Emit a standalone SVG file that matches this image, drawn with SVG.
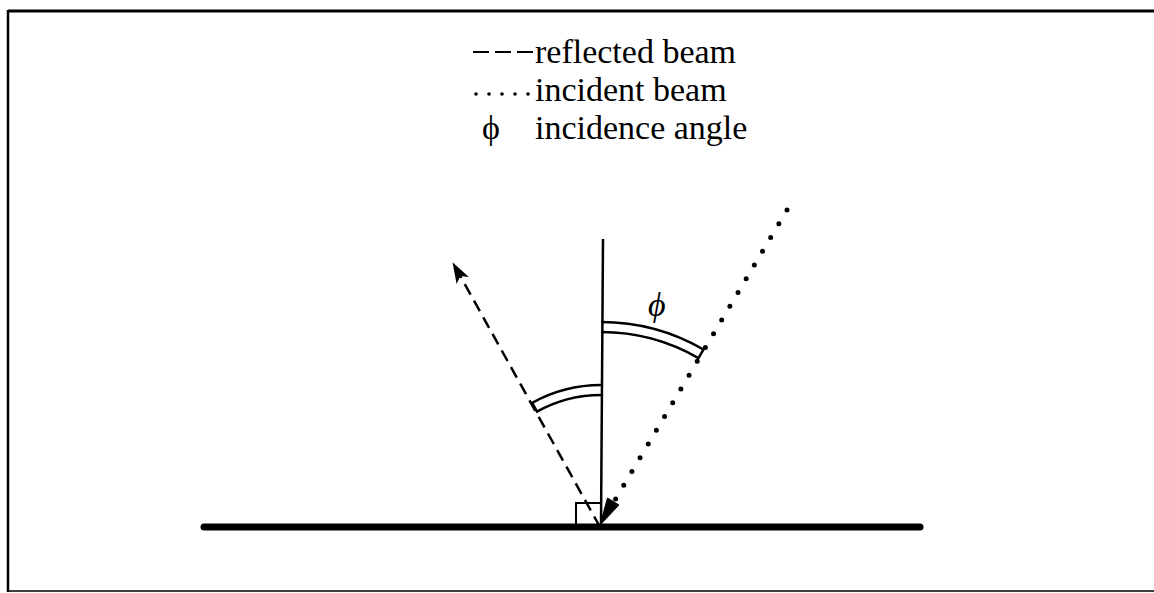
<svg xmlns="http://www.w3.org/2000/svg" width="1154" height="593" viewBox="0 0 1154 593">
<defs>
<style>
.txt{font-family:"Liberation Serif","Times New Roman",serif;font-size:34px;fill:#000}
.ln{stroke:#000;fill:none}
</style>
<marker id="ah" markerWidth="22" markerHeight="14" refX="20" refY="7" orient="auto" markerUnits="userSpaceOnUse">
<path d="M0,0 L21,7 L0,14 L5,7 Z" fill="#000"/>
</marker>
</defs>
<rect width="1154" height="593" fill="#fff"/>
<g id="frame">
<line class="ln" x1="8" y1="11" x2="1154" y2="11" stroke-width="3"/>
<line class="ln" x1="8" y1="10" x2="8" y2="592" stroke-width="2.5"/>
<line class="ln" x1="8" y1="591" x2="1154" y2="591" stroke-width="1.5"/>
</g>
<g id="legend">
<line class="ln" x1="473" y1="52" x2="533" y2="52" stroke-width="2.2" stroke-dasharray="16 6"/>
<text class="txt" x="535" y="63">reflected beam</text>
<g fill="#000">
<circle cx="476" cy="94" r="1.8"/>
<circle cx="489" cy="94" r="1.8"/>
<circle cx="502" cy="94" r="1.8"/>
<circle cx="515" cy="94" r="1.8"/>
<circle cx="528" cy="94" r="1.8"/>
</g>
<text class="txt" x="535" y="101">incident beam</text>
<text class="txt" x="482" y="139">ϕ</text>
<text class="txt" x="535" y="139">incidence angle</text>
</g>
<g id="ground">
<line class="ln" x1="204" y1="527" x2="920" y2="527" stroke-width="7" stroke-linecap="round"/>
</g>
<g id="normal">
<line class="ln" x1="603" y1="239" x2="601" y2="527" stroke-width="2.5"/>
<path class="ln" d="M576,527 V503 H601" stroke-width="2"/>
</g>
<g id="connectors">
<line class="ln" x1="600" y1="527" x2="453" y2="263" stroke-width="2.5" stroke-dasharray="12 7" marker-end="url(#ah)"/>
<line class="ln" x1="787" y1="210" x2="612" y2="505" stroke-width="5" stroke-linecap="round" stroke-dasharray="0 16"/>
<path d="M600,525 L607.5,498 L619,505 Z" fill="#000" stroke="#000" stroke-width="1" stroke-linejoin="round"/>
</g>
<g id="arc-phi">
<path class="ln" d="M601,322 A205,205 0 0 1 703.5,349.5 L698.5,358.1 A195,195 0 0 0 601,332" stroke-width="2.5"/>
<text class="txt" x="648" y="316" font-style="italic">ϕ</text>
</g>
<g id="arc-left">
<path class="ln" d="M601,385 A142,142 0 0 0 532.2,402.8 L537,411.6 A132,132 0 0 1 601,395" stroke-width="2.5"/>
</g>
</svg>
